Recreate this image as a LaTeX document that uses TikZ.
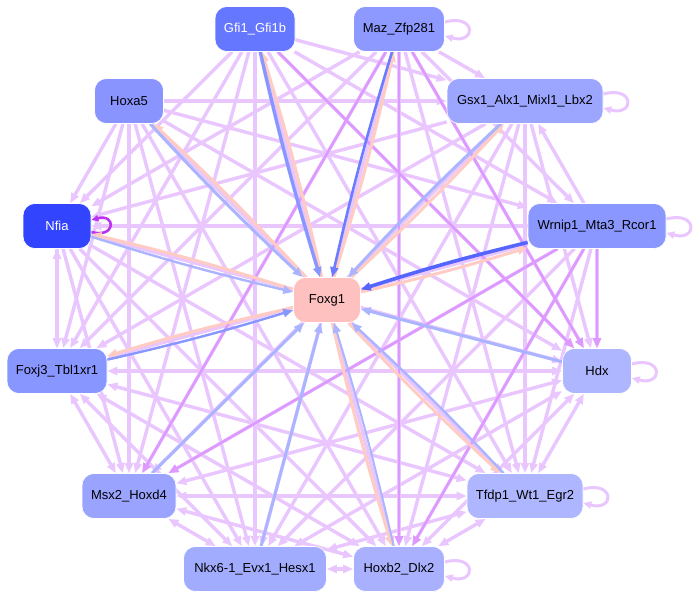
\documentclass[tikz,border=0pt]{standalone}
\usepackage{fontspec}
\setmainfont{Liberation Sans}
\usetikzlibrary{arrows.meta}
\definecolor{el}{HTML}{EAC6FF}
\definecolor{ed}{HTML}{DD99FF}
\definecolor{pk}{HTML}{FFCCC4}
\definecolor{cG}{HTML}{6677FF}
\definecolor{cM}{HTML}{8D99FF}
\definecolor{cH5}{HTML}{8A94FF}
\definecolor{cGs}{HTML}{9CA6FF}
\definecolor{cN}{HTML}{3344FF}
\definecolor{cW}{HTML}{8A97FF}
\definecolor{cFox}{HTML}{FFC0C0}
\definecolor{cF3}{HTML}{8896FF}
\definecolor{cHd}{HTML}{AEB6FF}
\definecolor{cMs}{HTML}{9AA4FF}
\definecolor{cT}{HTML}{AEB6FF}
\definecolor{cNk}{HTML}{A2ACFF}
\definecolor{cHb}{HTML}{A9B1FF}
\definecolor{b1}{HTML}{5566FF}
\definecolor{b2}{HTML}{6C7CFF}
\definecolor{b3}{HTML}{8896FF}
\definecolor{b4}{HTML}{AAB4FF}
\definecolor{lp}{HTML}{BB33EE}
\pgfdeclarelayer{bg}
\pgfsetlayers{bg,main}
\begin{document}
\begin{tikzpicture}[x=1pt,y=-1pt,
  nd/.style={rounded corners=12pt, minimum height=45pt, inner sep=0pt, draw=white, line width=0.6pt, font=\fontsize{13}{15}\selectfont},
  e/.style={draw=el, line width=3.4pt, -{Triangle[length=10pt,width=8pt]}},
  eb/.style={draw=el, line width=3.4pt, {Triangle[length=10pt,width=8pt]}-{Triangle[length=10pt,width=8pt]}},
  ed/.style={draw=ed, line width=2.6pt, -{Triangle[length=10pt,width=8pt]}},
  fx/.style={line width=3pt, -{Triangle[length=10pt,width=8pt]}},
  sl/.style={draw=el, line width=3pt, -{Triangle[length=8pt,width=7pt]}}]
\useasboundingbox (0,0) rectangle (698,599);
% nodes
\node[nd, fill=cG, text=white, minimum width=80pt] (G) at (255,29) {Gfi1\_Gfi1b};
\node[nd, fill=cM, minimum width=91pt] (M) at (399,29) {Maz\_Zfp281};
\node[nd, fill=cH5, minimum width=69pt] (H5) at (129,101) {Hoxa5};
\node[nd, fill=cGs, minimum width=156pt] (Gs) at (525,101) {Gsx1\_Alx1\_Mixl1\_Lbx2};
\node[nd, fill=cN, text=white, minimum width=68pt] (N) at (57,226) {Nfia};
\node[nd, fill=cW, minimum width=138pt] (W) at (597,226) {Wrnip1\_Mta3\_Rcor1};
\node[nd, fill=cFox, minimum width=67pt] (Fox) at (327,300) {Foxg1};
\node[nd, fill=cF3, minimum width=100pt] (F3) at (57,371) {Foxj3\_Tbl1xr1};
\node[nd, fill=cHd, minimum width=69pt] (Hd) at (597,371) {Hdx};
\node[nd, fill=cMs, minimum width=94pt] (Ms) at (129,496) {Msx2\_Hoxd4};
\node[nd, fill=cT, minimum width=116pt] (T) at (525,496) {Tfdp1\_Wt1\_Egr2};
\node[nd, fill=cNk, minimum width=143pt] (Nk) at (255,569) {Nkx6-1\_Evx1\_Hesx1};
\node[nd, fill=cHb, minimum width=91pt] (Hb) at (399,569) {Hoxb2\_Dlx2};
\begin{pgfonlayer}{bg}
\fill[white] (0,0) rectangle (698,599);
% light edges among upper group
\foreach \a/\b in {G/W,G/Gs,G/N,M/W,M/Gs,M/N,H5/W,H5/Gs,H5/N,W/Gs,W/N,Gs/N}
  \draw[e] (\a) -- (\b);
% upper to lower
\foreach \a in {G,M,H5,W,Gs,N}
  \foreach \b in {F3,Hd,Ms,T,Nk,Hb}
    \draw[e] (\a) -- (\b);
% lower group both ways
\foreach \a/\b in {N/F3,F3/Hd,F3/Ms,F3/T,F3/Nk,F3/Hb,Hd/Ms,Hd/T,Hd/Nk,Hd/Hb,Ms/T,Ms/Nk,Ms/Hb,T/Nk,T/Hb,Nk/Hb}
  \draw[eb] (\a) -- (\b);
% darker edges
\foreach \a/\b in {G/Hd,M/Hd,M/Hb,M/Ms,W/Hd,W/Hb,W/Ms}
  \draw[ed] (\a) -- (\b);
% self loops
\foreach \n in {M,Gs,W,Hd,T,Hb}
  \draw[sl] ([yshift=7pt]\n.east) to[out=15,in=-15,looseness=6] ([yshift=-7pt]\n.east);
\draw[draw=lp, line width=2.6pt, -{Triangle[length=7pt,width=6pt]}] ([yshift=-6pt]N.east) to[out=-15,in=15,looseness=5.5] ([yshift=6pt]N.east);
% Foxg1 edges
\draw[fx, draw=pk] (Fox) to[bend right=2] (G);
\draw[fx, draw=b3, line width=3.4pt] (G) to[bend right=2] (Fox);
\draw[fx, draw=pk] (Fox) to[bend right=2] (M);
\draw[fx, draw=b2, line width=2.6pt] (M) to[bend right=2] (Fox);
\draw[fx, draw=pk] (Fox) to[bend right=2] (H5);
\draw[fx, draw=b4] (H5) to[bend right=2] (Fox);
\draw[fx, draw=pk] (Fox) to[bend right=2] (Gs);
\draw[fx, draw=b4] (Gs) to[bend right=2] (Fox);
\draw[fx, draw=pk] (Fox) to[bend right=2] (N);
\draw[fx, draw=b4, line width=2.4pt] (N) to[bend right=2] (Fox);
\draw[fx, draw=pk] (Fox) to[bend right=2] (W);
\draw[fx, draw=b1, line width=3.6pt] (W) to[bend right=2] (Fox);
\draw[fx, draw=pk] (Fox) to[bend right=2] (F3);
\draw[fx, draw=b3, line width=2.4pt] (F3) to[bend right=2] (Fox);
\draw[fx, draw=b4] (Hd) -- (Fox);
\draw[fx, draw=b4] (Ms) -- (Fox);
\draw[fx, draw=b4] (Nk) -- (Fox);
\draw[fx, draw=pk] (Fox) to[bend right=2] (Hb);
\draw[fx, draw=b4, line width=2pt] (Hb) to[bend right=2] (Fox);
\draw[fx, draw=pk] (Fox) to[bend right=2] (T);
\draw[fx, draw=b4, line width=2.4pt] (T) to[bend right=2] (Fox);
\end{pgfonlayer}
\end{tikzpicture}
\end{document}
